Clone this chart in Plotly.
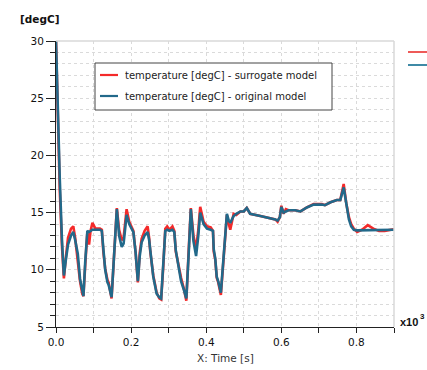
import plotly.graph_objects as go

# Time in units of 10^3 s
time = [0.000, 0.004, 0.010, 0.016, 0.021, 0.026, 0.032, 0.040, 0.046, 0.051,
        0.055, 0.058, 0.064, 0.070, 0.073, 0.078, 0.0835, 0.088, 0.092, 0.097,
        0.105, 0.117, 0.122, 0.126, 0.131, 0.137, 0.140, 0.148, 0.155, 0.162,
        0.168, 0.175, 0.180, 0.188, 0.195, 0.202, 0.206, 0.212, 0.218, 0.223,
        0.228, 0.236, 0.244, 0.248, 0.251, 0.259, 0.268, 0.275, 0.280, 0.286,
        0.291, 0.296, 0.302, 0.310, 0.315, 0.319, 0.326, 0.333, 0.340, 0.347,
        0.353, 0.359, 0.366, 0.373, 0.379, 0.384, 0.393, 0.402, 0.412, 0.418,
        0.420, 0.424, 0.428, 0.432, 0.439, 0.446, 0.455, 0.460, 0.464, 0.473,
        0.480, 0.491, 0.500, 0.508, 0.517, 0.544, 0.575, 0.584, 0.590, 0.596,
        0.600, 0.606, 0.612, 0.619, 0.637, 0.651, 0.668, 0.686, 0.708, 0.716,
        0.731, 0.748, 0.757, 0.766, 0.773, 0.780, 0.786, 0.793, 0.802, 0.815,
        0.830, 0.845, 0.860, 0.875, 0.900]

surrogate = [30, 24, 17, 12, 9.25, 11.0, 12.8, 13.6, 13.8, 12.8,
             11.6, 11.3, 9.0, 7.9, 7.7, 10.5, 13.3, 12.2, 13.4, 14.1,
             13.6, 13.6, 13.5, 11.6, 10.1, 9.1, 8.9, 7.5, 11.5, 15.4,
             13.5, 12.6, 12.8, 15.3, 14.2, 13.7, 13.4, 11.5, 8.9, 11.5,
             12.7, 13.4, 13.8, 12.8, 11.6, 9.5, 8.0, 7.5, 7.4, 10.5,
             13.6, 13.8, 13.5, 13.8, 13.4, 11.6, 10.4, 9.3, 8.4, 7.3,
             11.5, 15.4, 13.0, 11.8, 13.5, 15.5, 14.2, 13.8, 13.7, 13.4,
             11.6, 10.9, 9.3, 8.9, 7.8, 11.0, 14.8, 14.0, 13.5, 14.9,
             14.8, 15.1, 15.1, 15.4, 14.9, 14.7, 14.5, 14.4, 14.2, 14.6,
             15.6, 14.9, 15.3, 15.2, 15.2, 15.1, 15.45, 15.75, 15.75, 15.65,
             15.9, 16.1, 16.1, 17.5, 15.8, 14.6, 14.0, 13.6, 13.3, 13.5,
             13.9, 13.6, 13.4, 13.4, 13.55]

original = [30, 25, 18, 12.5, 9.5, 10.8, 12.2, 13.0, 13.3, 12.6,
            11.7, 11.4, 9.2, 8.0, 7.7, 10.8, 13.4, 13.3, 13.4, 13.5,
            13.5, 13.5, 13.4, 11.7, 10.0, 8.9, 8.7, 7.6, 11.0, 15.3,
            13.0, 12.0, 12.3, 14.8, 14.0, 13.6, 13.3, 11.5, 9.0, 11.2,
            12.4, 13.0, 13.3, 12.6, 11.6, 9.4, 7.9, 7.6, 7.5, 10.5,
            13.4, 13.5, 13.4, 13.5, 13.3, 11.7, 10.3, 9.0, 8.3, 7.5,
            11.2, 15.3, 12.5, 11.2, 13.0, 15.0, 14.0, 13.6, 13.5, 13.4,
            11.8, 11.0, 9.4, 9.0, 8.0, 11.3, 14.9, 14.3, 14.1, 14.7,
            14.9, 15.1, 15.1, 15.4, 14.9, 14.7, 14.5, 14.4, 14.3, 14.6,
            15.5, 15.0, 15.1, 15.2, 15.2, 15.1, 15.45, 15.7, 15.7, 15.65,
            15.9, 16.1, 16.1, 17.2, 15.8, 14.4, 13.8, 13.5, 13.45, 13.45,
            13.45, 13.45, 13.45, 13.45, 13.5]

series_names = ["temperature [degC] - surrogate model",
                "temperature [degC] - original model"]
y_ticks = [5, 10, 15, 20, 25, 30]
x_ticks = [0.0, 0.2, 0.4, 0.6, 0.8]

RED = "#f42a2a"
BLUE = "#22698a"

fig = go.Figure()
fig.add_trace(go.Scatter(x=time, y=surrogate, mode="lines", name=series_names[0],
                         line=dict(color=RED, width=2.6), showlegend=False))
fig.add_trace(go.Scatter(x=time, y=original, mode="lines", name=series_names[1],
                         line=dict(color=BLUE, width=2.6), showlegend=False))

W, H = 427, 370
# plot area in page pixels: x 56..394, y 41..327
ml, mt = 56, 41
pw, ph = 394 - 56, 327 - 41
mr, mb = W - ml - pw, H - mt - ph

def px(x):
    return (x - ml) / pw

def py(y):
    return (mt + ph - y) / ph

tickfont = dict(family="DejaVu Sans", size=10.5, color="#111")
GRID = "#dadada"

fig.update_layout(
    width=W, height=H,
    margin=dict(l=ml, r=mr, t=mt, b=mb, pad=0),
    paper_bgcolor="white", plot_bgcolor="white",
    font=dict(family="DejaVu Sans", size=10, color="#222"),
    xaxis=dict(range=[0, 0.9], tickvals=x_ticks, tickformat=".1f",
               ticks="outside", ticklen=5, tickcolor="#222",
               showline=True, linecolor="#222", linewidth=1,
               showgrid=True, gridcolor=GRID, griddash="dot", gridwidth=1,
               zeroline=False, tickfont=tickfont,
               tickprefix="<b>", ticksuffix="</b>",
               minor=dict(dtick=0.1, tick0=0, ticks="outside", ticklen=5, tickcolor="#222",
                          showgrid=True, gridcolor=GRID, griddash="dot")),
    yaxis=dict(range=[5, 30], tickvals=y_ticks,
               ticks="outside", ticklen=9, tickcolor="#222",
               showline=True, linecolor="#222", linewidth=1,
               showgrid=True, gridcolor=GRID, griddash="dot", gridwidth=1,
               zeroline=False, tickfont=tickfont,
               tickprefix="<b>", ticksuffix="</b>",
               minor=dict(dtick=1, tick0=0, ticks="outside", ticklen=5, tickcolor="#222",
                          showgrid=True, gridcolor=GRID, griddash="dot")),
)

shapes = [
    # light plot border top/right
    dict(type="line", xref="paper", yref="paper", x0=0, x1=1, y0=1, y1=1,
         line=dict(color="#d8d8d8", width=1.5)),
    dict(type="line", xref="paper", yref="paper", x0=1, x1=1, y0=0, y1=1,
         line=dict(color="#d8d8d8", width=1.5)),
    # legend box
    dict(type="rect", xref="paper", yref="paper", x0=px(95), x1=px(332), y0=py(110), y1=py(63),
         line=dict(color="#444", width=1), fillcolor="white", layer="above"),
    dict(type="line", xref="paper", yref="paper", x0=px(100), x1=px(118), y0=py(75), y1=py(75),
         line=dict(color=RED, width=2.2)),
    dict(type="line", xref="paper", yref="paper", x0=px(100), x1=px(118), y0=py(96), y1=py(96),
         line=dict(color=BLUE, width=2.2)),
    # truncated legend on the right
    dict(type="line", xref="paper", yref="paper", x0=px(408), x1=px(430), y0=py(52), y1=py(52),
         line=dict(color="#ee5a58", width=2)),
    dict(type="line", xref="paper", yref="paper", x0=px(408), x1=px(430), y0=py(65), y1=py(65),
         line=dict(color="#3f8aa6", width=2)),
]
fig.update_layout(shapes=shapes)

ann = [
    dict(text=series_names[0], x=px(123), y=py(75), xanchor="left", yanchor="middle"),
    dict(text=series_names[1], x=px(123), y=py(96), xanchor="left", yanchor="middle"),
    dict(text="<b>[degC]</b>", x=px(18), y=py(19), xanchor="left", yanchor="middle",
         font=dict(family="DejaVu Sans", size=10.5, color="#111")),
    dict(text="X: Time [s]", x=px(225), y=py(358), xanchor="center", yanchor="middle",
         font=dict(family="DejaVu Sans", size=10.5, color="#333")),
    dict(text="<b>x10</b>", x=px(398), y=py(322), xanchor="left", yanchor="middle",
         font=dict(family="Liberation Sans", size=11, color="#111")),
    dict(text="<b>3</b>", x=px(418), y=py(316), xanchor="left", yanchor="middle",
         font=dict(family="Liberation Sans", size=8, color="#111")),
]
for a in ann:
    a.update(xref="paper", yref="paper", showarrow=False)
    a.setdefault("font", dict(family="DejaVu Sans", size=10, color="#222"))
fig.update_layout(annotations=ann)

fig.write_html("out.html",
               config={"displayModeBar": False},
               post_script="document.body.style.margin='0';document.body.style.overflow='hidden';")
